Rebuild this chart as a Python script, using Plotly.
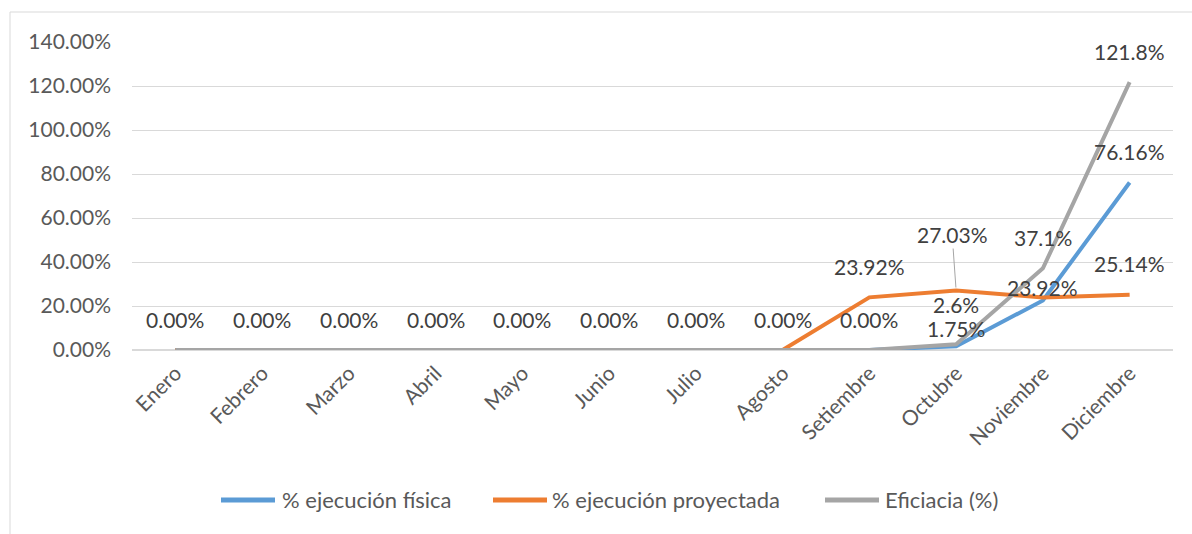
import plotly.graph_objects as go

meses = ["Enero", "Febrero", "Marzo", "Abril", "Mayo", "Junio", "Julio",
         "Agosto", "Setiembre", "Octubre", "Noviembre", "Diciembre"]
ejec_fisica = [0, 0, 0, 0, 0, 0, 0, 0, 0, 1.75, 22.5, 76.16]
ejec_proyectada = [0, 0, 0, 0, 0, 0, 0, 0, 23.92, 27.03, 23.92, 25.14]
eficiacia = [0, 0, 0, 0, 0, 0, 0, 0, 0, 2.6, 37.1, 121.8]

lbl_fisica = ["0.00%"] * 9 + ["1.75%", None, "76.16%"]
lbl_proyectada = [None] * 8 + ["23.92%", "27.03%", "23.92%", "25.14%"]
lbl_eficiacia = [None] * 9 + ["2.6%", "37.1%", "121.8%"]

FONT = "Lato"
TXT = "#404040"
GREY_TXT = "#595959"

# plot area in pixels, used to place the Excel-like legend and border
L, R, T, B = 132, 19, 42, 184
PW, PH = 1192 - L - R, 534 - T - B


def px(x):
    return (x - L) / PW


def py(y):
    return (534 - B - y) / PH


fig = go.Figure()
series = [
    ("% ejecución física", ejec_fisica, "#5B9BD5"),
    ("% ejecución proyectada", ejec_proyectada, "#ED7D31"),
    ("Eficiacia (%)", eficiacia, "#A5A5A5"),
]
for name, vals, color in series:
    fig.add_trace(go.Scatter(x=meses, y=vals, name=name, mode="lines",
                             line=dict(color=color, width=4), showlegend=False))

# data labels (Excel style, above the points)
shifts = {("p", 10): 10, ("e", 9): 40, ("f", 9): 18}
annots = []
for key, vals, labels in [("f", ejec_fisica, lbl_fisica),
                          ("p", ejec_proyectada, lbl_proyectada),
                          ("e", eficiacia, lbl_eficiacia)]:
    for i, lab in enumerate(labels):
        if lab is None:
            continue
        if key == "p" and i == 9:
            annots.append(dict(x=meses[i], y=vals[i], text=lab, showarrow=True,
                               ax=-4, ay=-56, arrowhead=0, arrowwidth=1,
                               arrowcolor="#A5A5A5", standoff=3,
                               font=dict(family=FONT, size=21, color=TXT)))
            continue
        annots.append(dict(x=meses[i], y=vals[i], text=lab, showarrow=False,
                           yshift=shifts.get((key, i), 31),
                           font=dict(family=FONT, size=21, color=TXT)))

# legend drawn like Excel: long line sample followed by the name
shapes = [dict(type="rect", xref="paper", yref="paper",
               x0=px(10), x1=px(1250), y0=py(600), y1=py(12),
               line=dict(color="#D9D9D9", width=1))]
legend_x = [(221, 275, 280), (493, 547, 550), (825, 879, 883)]
for (name, _, color), (x0, x1, xt) in zip(series, legend_x):
    shapes.append(dict(type="line", xref="paper", yref="paper",
                       x0=px(x0), x1=px(x1), y0=py(500), y1=py(500),
                       line=dict(color=color, width=5)))
    annots.append(dict(xref="paper", yref="paper", x=px(xt), y=py(500),
                       xanchor="left", yanchor="middle", showarrow=False,
                       text=name, font=dict(family=FONT, size=22, color=GREY_TXT)))

fig.update_layout(
    width=1192, height=534,
    margin=dict(l=L, r=R, t=T, b=B),
    paper_bgcolor="white", plot_bgcolor="white",
    font=dict(family=FONT, size=21, color=GREY_TXT),
    annotations=annots,
    shapes=shapes,
    showlegend=False,
)
fig.update_xaxes(range=[-0.5, 11.5], showgrid=False, showline=False, ticks="",
                 tickangle=-45, automargin=False, ticklabelstandoff=6,
                 tickfont=dict(family=FONT, size=21, color=GREY_TXT))
fig.update_yaxes(range=[0, 140], dtick=20, tickformat=".2f", ticksuffix="%",
                 showgrid=True, gridcolor="#D9D9D9", gridwidth=1,
                 zeroline=True, zerolinecolor="#D9D9D9", automargin=False,
                 tickfont=dict(family=FONT, size=21, color=GREY_TXT),
                 ticklabelstandoff=20)

fig.write_html("out.html", config={"displayModeBar": False},
               post_script="document.body.style.margin='0';")
